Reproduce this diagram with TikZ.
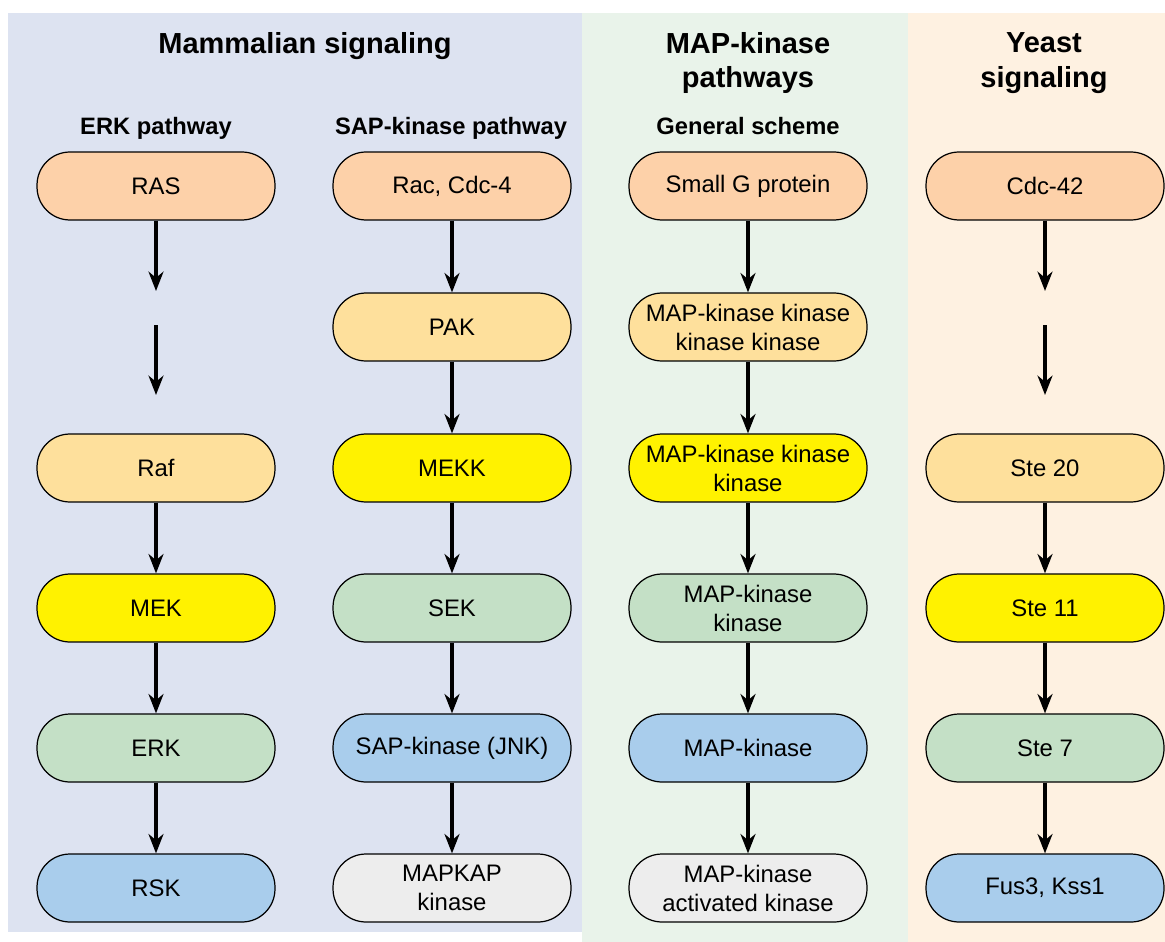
\documentclass[tikz,border=0pt]{standalone}
\usepackage{fontspec}
\setmainfont{Liberation Sans}
\usetikzlibrary{arrows.meta}

% panel backgrounds
\definecolor{mammalbg}{HTML}{DDE3F1}
\definecolor{schemebg}{HTML}{E9F3EA}
\definecolor{yeastbg}{HTML}{FEF1E1}
% one colour per level of the cascade
\definecolor{gprot}{HTML}{FDD1A9}
\definecolor{kkkk}{HTML}{FEE09C}
\definecolor{kkk}{HTML}{FFF200}
\definecolor{kk}{HTML}{C4E0C6}
\definecolor{kin}{HTML}{A9CDEC}
\definecolor{activated}{HTML}{EDEDED}

\tikzset{
  pill/.style={draw, line width=0.7pt, rounded corners=0.66cm,
    minimum width=4.76cm, minimum height=1.36cm, inner sep=0pt,
    align=center, font=\fontsize{13.6}{16.5}\selectfont},
  flow/.style={line width=2.1pt, -{Stealth[length=11pt,width=8.5pt,inset=3.5pt]}},
  title/.style={align=center, font=\fontsize{16.5}{19.5}\selectfont\bfseries},
  head/.style={anchor=base, font=\fontsize{13.5}{16}\selectfont\bfseries}
}

\begin{document}
\begin{tikzpicture}[x=0.02cm,y=-0.02cm]
  \useasboundingbox (0,0) rectangle (1165,942);
  \fill[mammalbg] (8,13) rectangle (582,932);
  \fill[schemebg] (582,13) rectangle (908,942);
  \fill[yeastbg] (908,13) rectangle (1165,942);

  \node[title, anchor=base] (tm) at (305,54) {Mammalian signaling};
  \node[title] (tg) at (748,63) {MAP-kinase\\pathways};
  \node[title] (ty) at (1044,63) {Yeast\\signaling};

  \node[head] (he) at (156,135) {ERK pathway};
  \node[head] (hs) at (451,135) {SAP-kinase pathway};
  \node[head] (hg) at (748,135) {General scheme};

  % ERK pathway
  \node[pill, fill=gprot] (e1) at (156,186) {RAS};
  \node[pill, fill=kkkk] (e3) at (156,468) {Raf};
  \node[pill, fill=kkk] (e4) at (156,608) {MEK};
  \node[pill, fill=kk] (e5) at (156,748) {ERK};
  \node[pill, fill=kin] (e6) at (156,888) {RSK};
  \coordinate (e2a) at (156,291);
  \coordinate (e2b) at (156,325);
  \coordinate (e2c) at (156,395);

  % SAP-kinase pathway
  \node[pill, fill=gprot] (s1) at (452,186) {Rac, Cdc-4};
  \node[pill, fill=kkkk] (s2) at (452,327) {PAK};
  \node[pill, fill=kkk] (s3) at (452,468) {MEKK};
  \node[pill, fill=kk] (s4) at (452,608) {SEK};
  \node[pill, fill=kin] (s5) at (452,748) {SAP-kinase (JNK)};
  \node[pill, fill=activated] (s6) at (452,888) {MAPKAP\\kinase};

  % general scheme
  \node[pill, fill=gprot] (g1) at (748,186) {Small G protein};
  \node[pill, fill=kkkk] (g2) at (748,327) {MAP-kinase kinase\\kinase kinase};
  \node[pill, fill=kkk] (g3) at (748,468) {MAP-kinase kinase\\kinase};
  \node[pill, fill=kk] (g4) at (748,608) {MAP-kinase\\kinase};
  \node[pill, fill=kin] (g5) at (748,748) {MAP-kinase};
  \node[pill, fill=activated] (g6) at (748,888) {MAP-kinase\\activated kinase};

  % yeast
  \node[pill, fill=gprot] (y1) at (1045,186) {Cdc-42};
  \node[pill, fill=kkkk] (y3) at (1045,468) {Ste 20};
  \node[pill, fill=kkk] (y4) at (1045,608) {Ste 11};
  \node[pill, fill=kk] (y5) at (1045,748) {Ste 7};
  \node[pill, fill=kin] (y6) at (1045,888) {Fus3, Kss1};
  \coordinate (y2a) at (1045,291);
  \coordinate (y2b) at (1045,325);
  \coordinate (y2c) at (1045,395);

  \draw[flow] (e1) -- (e2a);
  \draw[flow] (e2b) -- (e2c);
  \draw[flow] (y1) -- (y2a);
  \draw[flow] (y2b) -- (y2c);
  \foreach \p in {e,y}
    \foreach \a/\b in {3/4,4/5,5/6}
      \draw[flow] (\p\a) -- (\p\b);
  \foreach \p in {s,g}
    \foreach \a/\b in {1/2,2/3,3/4,4/5,5/6}
      \draw[flow] (\p\a) -- (\p\b);
\end{tikzpicture}
\end{document}
